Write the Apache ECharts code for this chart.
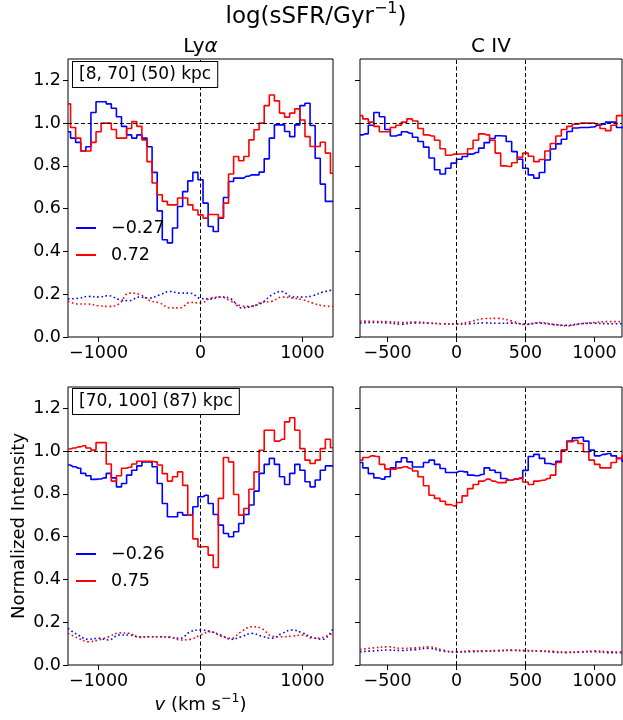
<!DOCTYPE html>
<html><head><meta charset="utf-8">
<script src="https://cdn.jsdelivr.net/npm/echarts@6/dist/echarts.min.js"></script>
<style>html,body{margin:0;padding:0;background:#fff}#c{width:623px;height:720px}</style>
</head><body><div id="c"></div>
<script>
// ---------- data ----------
// Lyα velocity bins (centres, km/s): -1300 .. 1300, 50 km/s wide
const lyaStart = -1300, lyaStep = 50, lyaCount = 53;
// C IV velocity bins (centres, km/s): -700 .. 1220, 40 km/s wide
const civStart = -700, civStep = 40, civCount = 49;
// error (dotted) curves sampled every 100 km/s
const lyaErrStart = -1300, lyaErrCount = 27;
const civErrStart = -700, civErrCount = 20;
const errStep = 100;

const lyaTopBlue = [0.96,0.93,0.91,0.87,0.89,1.05,1.10,1.10,1.09,1.07,
 1.03,0.985,0.945,0.93,0.945,0.93,0.89,0.77,0.59,0.455,
 0.44,0.51,0.61,0.68,0.73,0.77,0.735,0.626,0.517,0.493,
 0.556,0.652,0.727,0.743,0.743,0.752,0.758,0.758,0.771,0.833,
 0.93,0.992,0.992,0.961,0.937,0.992,1.082,1.093,0.989,0.836,
 0.715,0.634,0.634];
const lyaTopRed = [1.09,0.98,0.93,0.87,0.87,0.91,0.96,1.00,1.00,0.97,
 0.93,0.93,0.975,1.007,0.985,0.922,0.82,0.72,0.665,0.634,
 0.618,0.618,0.65,0.65,0.618,0.594,0.571,0.556,0.573,0.573,
 0.558,0.626,0.762,0.844,0.824,0.844,0.922,0.969,1.0,1.082,
 1.132,1.104,1.047,1.028,1.047,1.067,1.015,0.937,0.891,0.891,
 0.911,0.86,0.766];
const lyaTopBlueErr = [0.178,0.181,0.19,0.187,0.193,0.175,0.17,0.187,0.182,0.197,0.213,0.205,0.205,0.18,0.178,0.187,0.178,0.136,0.143,0.159,0.197,0.213,0.187,0.187,0.193,0.21,0.22];
const lyaTopRedErr = [0.167,0.154,0.154,0.146,0.143,0.155,0.205,0.2,0.171,0.159,0.136,0.136,0.162,0.159,0.182,0.187,0.167,0.146,0.143,0.162,0.167,0.187,0.182,0.175,0.159,0.146,0.143];

const civTopBlue = [0.945,0.95,0.99,1.05,1.03,0.97,0.94,0.945,0.96,0.953,
 0.934,0.914,0.888,0.837,0.782,0.762,0.789,0.813,0.831,0.844,
 0.855,0.863,0.883,0.909,0.928,0.941,0.94,0.914,0.867,0.831,
 0.789,0.758,0.743,0.769,0.828,0.879,0.903,0.925,0.961,0.977,
 0.98,0.98,0.982,0.99,0.995,1.005,1.005,0.98,0.98];
const civTopRed = [1.035,1.02,1.005,0.985,0.96,0.96,0.98,0.99,1.005,1.02,
 1.01,0.975,0.945,0.94,0.92,0.88,0.85,0.855,0.856,0.857,
 0.88,0.92,0.95,0.945,0.92,0.86,0.80,0.797,0.815,0.84,
 0.86,0.845,0.82,0.83,0.87,0.905,0.94,0.97,0.985,0.995,
 1.0,1.0,1.0,0.995,0.975,0.965,0.99,1.035,1.04];
const civTopBlueErr = [0.065,0.068,0.066,0.06,0.066,0.064,0.062,0.06,0.062,0.066,0.064,0.065,0.06,0.065,0.058,0.055,0.062,0.064,0.062,0.062];
const civTopRedErr = [0.075,0.073,0.072,0.068,0.07,0.066,0.062,0.062,0.072,0.086,0.087,0.075,0.058,0.068,0.06,0.052,0.062,0.068,0.072,0.072];

const lyaBotBlue = [0.935,0.927,0.92,0.896,0.885,0.868,0.87,0.875,0.896,0.875,
 0.833,0.849,0.888,0.911,0.931,0.95,0.95,0.927,0.849,0.755,
 0.693,0.693,0.713,0.701,0.701,0.74,0.787,0.794,0.755,0.704,
 0.654,0.615,0.60,0.623,0.662,0.704,0.748,0.813,0.896,0.938,
 0.966,0.938,0.88,0.844,0.896,0.938,0.911,0.857,0.833,0.865,
 0.911,0.931,0.931];
const lyaBotRed = [1.01,1.015,1.02,1.025,1.015,1.005,1.04,1.04,0.94,0.86,
 0.885,0.92,0.925,0.94,0.953,0.953,0.953,0.95,0.935,0.895,
 0.86,0.88,0.903,0.84,0.70,0.59,0.553,0.553,0.514,0.456,
 0.779,0.97,0.95,0.797,0.701,0.732,0.822,0.903,1.004,1.098,
 1.098,1.047,1.056,1.137,1.156,1.098,1.012,0.958,0.942,0.958,
 1.012,1.056,1.016];
const lyaBotBlueErr = [0.171,0.14,0.12,0.125,0.117,0.14,0.14,0.132,0.132,0.132,0.129,0.125,0.156,0.164,0.156,0.14,0.12,0.132,0.148,0.135,0.125,0.148,0.164,0.15,0.129,0.12,0.171];
const lyaBotRedErr = [0.148,0.125,0.109,0.117,0.132,0.15,0.148,0.129,0.132,0.132,0.132,0.117,0.12,0.14,0.156,0.135,0.125,0.156,0.179,0.171,0.135,0.132,0.135,0.14,0.125,0.129,0.15];

const civBotBlue = [0.947,0.922,0.895,0.875,0.869,0.88,0.922,0.95,0.969,0.95,
 0.926,0.926,0.947,0.958,0.938,0.919,0.90,0.90,0.906,0.903,
 0.888,0.885,0.891,0.922,0.911,0.90,0.872,0.864,0.869,0.872,
 0.91,0.975,0.985,0.966,0.942,0.938,0.953,1.005,1.047,1.062,
 1.065,1.047,1.005,0.978,0.985,0.989,0.978,0.966,0.953];
const civBotRed = [0.958,0.97,0.978,0.975,0.938,0.916,0.916,0.922,0.927,0.919,
 0.907,0.88,0.838,0.794,0.779,0.766,0.75,0.744,0.76,0.791,
 0.825,0.844,0.86,0.869,0.86,0.853,0.853,0.864,0.869,0.875,
 0.856,0.844,0.86,0.864,0.872,0.888,0.947,1.005,1.044,1.051,
 1.036,0.997,0.958,0.938,0.922,0.922,0.947,0.966,0.978];
const civBotBlueErr = [0.062,0.066,0.07,0.068,0.072,0.078,0.065,0.06,0.062,0.064,0.066,0.068,0.066,0.065,0.06,0.058,0.06,0.062,0.058,0.058];
const civBotRedErr = [0.072,0.08,0.085,0.078,0.08,0.085,0.07,0.062,0.066,0.066,0.068,0.07,0.068,0.066,0.064,0.06,0.062,0.066,0.062,0.06];

const legendTop = ['\u22120.27', '0.72'];
const legendBot = ['\u22120.26', '0.75'];
const boxTop = '[8, 70] (50) kpc';
const boxBot = '[70, 100] (87) kpc';
const lyaXTicks = [-1000, 0, 1000];
const civXTicks = [-500, 0, 500, 1000];
const yTicks = [0, 0.2, 0.4, 0.6, 0.8, 1.0, 1.2];
const lyaRefX = [0];
const civRefX = [0, 500];

// ---------- helpers ----------
function grid(start, step, n) { const a = []; for (let i = 0; i < n; i++) a.push(start + i * step); return a; }
function zip(xs, ys) { return ys.map((y, i) => [xs[i], y]); }
const vLya = grid(lyaStart, lyaStep, lyaCount);
const vCiv = grid(civStart, civStep, civCount);
const vLyaErr = grid(lyaErrStart, errStep, lyaErrCount);
const vCivErr = grid(civErrStart, errStep, civErrCount);

const FONT = 'DejaVu Sans';
const BLUE = '#0000ff', RED = '#ff0000';
const fmtX = v => (v < 0 ? '\u2212' : '') + Math.abs(v);

const mctx = document.createElement('canvas').getContext('2d');
function measure(t, size, italic) {
  mctx.font = (italic ? 'italic ' : '') + size + 'px "' + FONT + '"';
  return mctx.measureText(t).width;
}
// text made of pieces, some raised (superscript); centred at cx, cy
function pieceText(parts, cx, cy) {
  const widths = parts.map(p => measure(p.t, p.size, p.italic));
  const total = widths.reduce((a, b) => a + b, 0);
  let x = cx - total / 2;
  return parts.map((p, k) => {
    const el = {type: 'text', x: x, y: cy + (p.dy || 0), z: 100, silent: true,
      style: {text: p.t, fontSize: p.size, fontFamily: FONT, fontStyle: p.italic ? 'italic' : 'normal', fill: '#000', align: 'left', verticalAlign: 'middle'}};
    x += widths[k];
    return el;
  });
}

const grids = [
  {left: 68, top: 59, width: 265, height: 278},
  {left: 360, top: 59, width: 262, height: 278},
  {left: 68, top: 387, width: 265, height: 278},
  {left: 360, top: 387, width: 262, height: 278}
].map(g => Object.assign(g, {show: true, borderColor: '#000', borderWidth: 1, containLabel: false}));

const panels = [
  {x: [-1300, 1300], ticks: lyaXTicks, ref: lyaRefX, v: vLya, ve: vLyaErr, b: lyaTopBlue, r: lyaTopRed, be: lyaTopBlueErr, re: lyaTopRedErr, names: legendTop},
  {x: [-700, 1200], ticks: civXTicks, ref: civRefX, v: vCiv, ve: vCivErr, b: civTopBlue, r: civTopRed, be: civTopBlueErr, re: civTopRedErr, names: ['civT_b', 'civT_r']},
  {x: [-1300, 1300], ticks: lyaXTicks, ref: lyaRefX, v: vLya, ve: vLyaErr, b: lyaBotBlue, r: lyaBotRed, be: lyaBotBlueErr, re: lyaBotRedErr, names: legendBot},
  {x: [-700, 1200], ticks: civXTicks, ref: civRefX, v: vCiv, ve: vCivErr, b: civBotBlue, r: civBotRed, be: civBotBlueErr, re: civBotRedErr, names: ['civB_b', 'civB_r']}
];

const xAxis = [], yAxis = [], series = [];
panels.forEach((p, i) => {
  const xa = {
    type: 'value', gridIndex: i, min: p.x[0], max: p.x[1],
    axisLine: {show: false, onZero: false},
    axisTick: {show: true, length: 5, customValues: p.ticks, lineStyle: {color: '#000', width: 1}},
    axisLabel: {customValues: p.ticks, formatter: fmtX, fontSize: 17.5, fontFamily: FONT, color: '#000', margin: 7},
    splitLine: {show: false}
  };
  const ya = {
    type: 'value', gridIndex: i, min: 0, max: 1.3,
    axisLine: {show: false, onZero: false},
    axisTick: {show: true, length: 5, customValues: yTicks, lineStyle: {color: '#000', width: 1}},
    axisLabel: {show: i % 2 === 0, customValues: yTicks, formatter: v => v.toFixed(1), fontSize: 17.5, fontFamily: FONT, color: '#000', margin: 7},
    splitLine: {show: false}
  };
  if (i === 2) {
    ya.name = 'Normalized Intensity';
    ya.nameLocation = 'middle';
    ya.nameGap = 40;
    ya.nameTextStyle = {fontSize: 18, fontFamily: FONT, color: '#000'};
  }
  xAxis.push(xa); yAxis.push(ya);

  const common = {type: 'line', xAxisIndex: i, yAxisIndex: i, symbol: 'none', showSymbol: false, silent: true, animation: false};
  series.push(Object.assign({}, common, {name: p.names[0], step: 'middle', data: zip(p.v, p.b), lineStyle: {color: BLUE, width: 1.6}, itemStyle: {color: BLUE}, z: 3}));
  series.push(Object.assign({}, common, {name: p.names[1], step: 'middle', data: zip(p.v, p.r), lineStyle: {color: RED, width: 1.6}, itemStyle: {color: RED}, z: 4}));
  series.push(Object.assign({}, common, {name: 'err_b' + i, data: zip(p.ve, p.be), smooth: 0.4, lineStyle: {color: BLUE, width: 1.6, type: [1.6, 2.6]}, itemStyle: {color: BLUE}, z: 2}));
  series.push(Object.assign({}, common, {name: 'err_r' + i, data: zip(p.ve, p.re), smooth: 0.4, lineStyle: {color: RED, width: 1.6, type: [1.6, 2.6]}, itemStyle: {color: RED}, z: 2,
    markLine: {silent: true, symbol: ['none', 'none'], label: {show: false}, animation: false,
      lineStyle: {color: '#000', width: 1, type: [4, 2.5]},
      data: [{yAxis: 1}].concat(p.ref.map(v => ({xAxis: v})))}}));
});

const legendBase = {orient: 'vertical', left: 76, icon: 'rect', itemWidth: 20, itemHeight: 2, itemGap: 9, selectedMode: false,
  padding: 0, textStyle: {fontSize: 17.5, fontFamily: FONT, color: '#000', padding: [0, 0, 0, 10]}};

const graphics = []
  .concat(pieceText([{t: 'log(sSFR/Gyr', size: 23}, {t: '\u22121', size: 16, dy: -8}, {t: ')', size: 23}], 316, 17))
  .concat(pieceText([{t: 'v', size: 18, italic: true}, {t: ' (km s', size: 18}, {t: '\u22121', size: 12.5, dy: -6}, {t: ')', size: 18}], 200.5, 705))
  .concat([
    {type: 'text', x: 200.5, y: 47, z: 100, style: {text: '{n|Ly}{i|\u03B1}', fontSize: 20, fontFamily: FONT, fill: '#000', align: 'center', verticalAlign: 'middle',
      rich: {n: {fontSize: 20, fontFamily: FONT, fill: '#000'}, i: {fontSize: 20, fontFamily: FONT, fontStyle: 'italic', fill: '#000'}}}},
    {type: 'text', x: 491, y: 47, z: 100, style: {text: 'C IV', fontSize: 20, fontFamily: FONT, fill: '#000', align: 'center', verticalAlign: 'middle'}},
    {type: 'text', x: 73, y: 62, z: 100, style: {text: boxTop, fontSize: 17, fontFamily: FONT, fill: '#000', backgroundColor: '#fff', borderColor: '#000', borderWidth: 1, padding: [4, 6, 4, 6]}},
    {type: 'text', x: 73, y: 389, z: 100, style: {text: boxBot, fontSize: 17, fontFamily: FONT, fill: '#000', backgroundColor: '#fff', borderColor: '#000', borderWidth: 1, padding: [4, 6, 4, 6]}}
  ]);

const option = {
  backgroundColor: '#fff',
  animation: false,
  grid: grids, xAxis, yAxis, series,
  legend: [
    Object.assign({}, legendBase, {top: 219, data: legendTop}),
    Object.assign({}, legendBase, {top: 545, data: legendBot})
  ],
  graphic: graphics
};

const chart = echarts.init(document.getElementById('c'), null, {renderer: 'canvas', width: 623, height: 720});
chart.setOption(option);
</script></body></html>
